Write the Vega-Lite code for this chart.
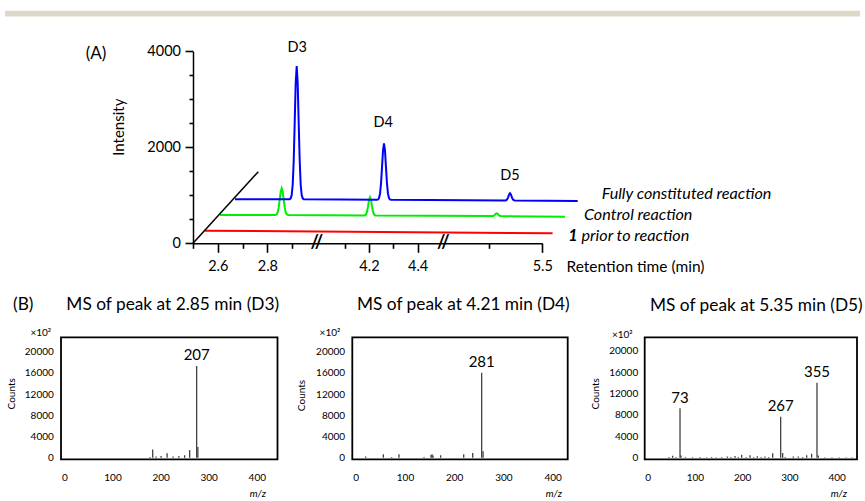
{
  "$schema": "https://vega.github.io/schema/vega-lite/v6.json",
  "width": 865,
  "height": 501,
  "autosize": {"type": "none"},
  "padding": 0,
  "background": "white",
  "config": {
    "view": {"stroke": null},
    "font": "Lato",
    "text": {"font": "Lato", "color": "#000"},
    "axis": {"labelFont": "Lato", "titleFont": "Lato", "labelColor": "#000", "titleColor": "#000", "titleFontWeight": "normal", "labelFlush": false, "labelOverlap": false, "grid": false, "zindex": 2}
  },
  "datasets": {
    "header": [{"band": "header rule"}],
    "traces": [
      {"series": "prior", "t": 2.548, "v": 262}, {"series": "prior", "t": 5.539, "v": 208},
      {"series": "control", "t": 2.609, "v": 590},
      {"series": "control", "t": 2.8297, "v": 589}, {"series": "control", "t": 2.8338, "v": 592}, {"series": "control", "t": 2.8378, "v": 606}, {"series": "control", "t": 2.8419, "v": 649}, {"series": "control", "t": 2.8459, "v": 748}, {"series": "control", "t": 2.8499, "v": 909}, {"series": "control", "t": 2.854, "v": 1074}, {"series": "control", "t": 2.858, "v": 1146}, {"series": "control", "t": 2.862, "v": 1074}, {"series": "control", "t": 2.8661, "v": 909}, {"series": "control", "t": 2.8701, "v": 748}, {"series": "control", "t": 2.8741, "v": 649}, {"series": "control", "t": 2.8782, "v": 606}, {"series": "control", "t": 2.8822, "v": 592}, {"series": "control", "t": 2.8863, "v": 589},
      {"series": "control", "t": 4.1796, "v": 581}, {"series": "control", "t": 4.1837, "v": 585}, {"series": "control", "t": 4.1878, "v": 604}, {"series": "control", "t": 4.1919, "v": 660}, {"series": "control", "t": 4.196, "v": 769}, {"series": "control", "t": 4.2001, "v": 898}, {"series": "control", "t": 4.2042, "v": 958}, {"series": "control", "t": 4.2083, "v": 898}, {"series": "control", "t": 4.2124, "v": 769}, {"series": "control", "t": 4.2165, "v": 660}, {"series": "control", "t": 4.2206, "v": 604}, {"series": "control", "t": 4.2247, "v": 585}, {"series": "control", "t": 4.2288, "v": 581},
      {"series": "control", "t": 5.3121, "v": 567}, {"series": "control", "t": 5.3159, "v": 573}, {"series": "control", "t": 5.3197, "v": 590}, {"series": "control", "t": 5.3235, "v": 613}, {"series": "control", "t": 5.3273, "v": 625}, {"series": "control", "t": 5.3311, "v": 613}, {"series": "control", "t": 5.3349, "v": 590}, {"series": "control", "t": 5.3387, "v": 573}, {"series": "control", "t": 5.3425, "v": 567},
      {"series": "control", "t": 5.586, "v": 554},
      {"series": "full", "t": 2.6695, "v": 917},
      {"series": "full", "t": 2.8903, "v": 920}, {"series": "full", "t": 2.8943, "v": 936}, {"series": "full", "t": 2.8983, "v": 1004}, {"series": "full", "t": 2.9023, "v": 1220}, {"series": "full", "t": 2.9064, "v": 1715}, {"series": "full", "t": 2.9104, "v": 2513}, {"series": "full", "t": 2.9144, "v": 3335}, {"series": "full", "t": 2.9185, "v": 3694}, {"series": "full", "t": 2.9225, "v": 3335}, {"series": "full", "t": 2.9265, "v": 2513}, {"series": "full", "t": 2.9306, "v": 1715}, {"series": "full", "t": 2.9346, "v": 1220}, {"series": "full", "t": 2.9386, "v": 1004}, {"series": "full", "t": 2.9427, "v": 936}, {"series": "full", "t": 2.9467, "v": 920},
      {"series": "full", "t": 4.2329, "v": 906}, {"series": "full", "t": 4.2371, "v": 913}, {"series": "full", "t": 4.2412, "v": 942}, {"series": "full", "t": 4.2453, "v": 1033}, {"series": "full", "t": 4.2494, "v": 1244}, {"series": "full", "t": 4.2535, "v": 1582}, {"series": "full", "t": 4.2576, "v": 1931}, {"series": "full", "t": 4.2617, "v": 2083}, {"series": "full", "t": 4.2658, "v": 1931}, {"series": "full", "t": 4.2699, "v": 1582}, {"series": "full", "t": 4.274, "v": 1244}, {"series": "full", "t": 4.2781, "v": 1033}, {"series": "full", "t": 4.2822, "v": 942}, {"series": "full", "t": 4.2863, "v": 913}, {"series": "full", "t": 4.2905, "v": 906},
      {"series": "full", "t": 5.3588, "v": 891}, {"series": "full", "t": 5.3625, "v": 894}, {"series": "full", "t": 5.3663, "v": 911}, {"series": "full", "t": 5.3701, "v": 952}, {"series": "full", "t": 5.3739, "v": 1012}, {"series": "full", "t": 5.3777, "v": 1042}, {"series": "full", "t": 5.3815, "v": 1012}, {"series": "full", "t": 5.3853, "v": 952}, {"series": "full", "t": 5.3891, "v": 911}, {"series": "full", "t": 5.3929, "v": 894}, {"series": "full", "t": 5.3966, "v": 891},
      {"series": "full", "t": 5.634, "v": 881}
    ],
    "depthAxis": [{"t": 2.5, "v": 0}, {"t": 2.7635, "v": 1492}],
    "annotA": [
      {"role": "peak", "label": "D3", "t": 2.9209, "v": 4062},
      {"role": "peak", "label": "D4", "t": 4.2588, "v": 2500},
      {"role": "peak", "label": "D5", "t": 5.3777, "v": 1402},
      {"role": "series", "label": "Fully constituted reaction", "t": 5.725, "v": 1027},
      {"role": "series", "label": "Control reaction", "t": 5.658, "v": 590},
      {"role": "series", "label": "prior to reaction", "t": 5.6485, "v": 152},
      {"role": "compound", "label": "1", "t": 5.5985, "v": 152},
      {"role": "panel", "label": "(A)", "t": 2.1086, "v": 3944},
      {"role": "break", "label": "//", "t": 3.0, "v": 0},
      {"role": "break", "label": "//", "t": 5.125, "v": 0}
    ],
    "panels": [{"panel": "B1"}, {"panel": "B2"}, {"panel": "B3"}],
    "spectra": [
      {"panel": "B1", "mz": 178, "counts": 150}, {"panel": "B1", "mz": 183.6, "counts": 1550}, {"panel": "B1", "mz": 190.5, "counts": 250}, {"panel": "B1", "mz": 201, "counts": 300}, {"panel": "B1", "mz": 213.5, "counts": 850}, {"panel": "B1", "mz": 226, "counts": 250}, {"panel": "B1", "mz": 238, "counts": 300}, {"panel": "B1", "mz": 250, "counts": 450}, {"panel": "B1", "mz": 260.5, "counts": 1450}, {"panel": "B1", "mz": 275, "counts": 17290}, {"panel": "B1", "mz": 277.5, "counts": 2000},
      {"panel": "B2", "mz": 20.2, "counts": 250}, {"panel": "B2", "mz": 56, "counts": 640}, {"panel": "B2", "mz": 73, "counts": 120}, {"panel": "B2", "mz": 87.8, "counts": 640}, {"panel": "B2", "mz": 138.6, "counts": 120}, {"panel": "B2", "mz": 152.8, "counts": 500}, {"panel": "B2", "mz": 154.9, "counts": 650}, {"panel": "B2", "mz": 157, "counts": 400}, {"panel": "B2", "mz": 172.5, "counts": 450}, {"panel": "B2", "mz": 219.3, "counts": 640}, {"panel": "B2", "mz": 237.6, "counts": 900}, {"panel": "B2", "mz": 255.8, "counts": 16030}, {"panel": "B2", "mz": 258.6, "counts": 1200},
      {"panel": "B3", "mz": 45, "counts": 150}, {"panel": "B3", "mz": 52.9, "counts": 380}, {"panel": "B3", "mz": 60, "counts": 150}, {"panel": "B3", "mz": 68.4, "counts": 9230}, {"panel": "B3", "mz": 70.5, "counts": 400}, {"panel": "B3", "mz": 80, "counts": 120}, {"panel": "B3", "mz": 95, "counts": 100}, {"panel": "B3", "mz": 110.7, "counts": 150}, {"panel": "B3", "mz": 125, "counts": 100}, {"panel": "B3", "mz": 135.4, "counts": 150}, {"panel": "B3", "mz": 145, "counts": 100}, {"panel": "B3", "mz": 156.6, "counts": 150}, {"panel": "B3", "mz": 168.5, "counts": 200}, {"panel": "B3", "mz": 176, "counts": 120}, {"panel": "B3", "mz": 184.8, "counts": 300}, {"panel": "B3", "mz": 192, "counts": 150}, {"panel": "B3", "mz": 199, "counts": 560}, {"panel": "B3", "mz": 208, "counts": 150}, {"panel": "B3", "mz": 216.5, "counts": 450}, {"panel": "B3", "mz": 224, "counts": 120}, {"panel": "B3", "mz": 232, "counts": 250}, {"panel": "B3", "mz": 240, "counts": 120}, {"panel": "B3", "mz": 248, "counts": 200}, {"panel": "B3", "mz": 256, "counts": 150}, {"panel": "B3", "mz": 264.5, "counts": 820}, {"panel": "B3", "mz": 281.5, "counts": 7660}, {"panel": "B3", "mz": 285.7, "counts": 900}, {"panel": "B3", "mz": 291, "counts": 150}, {"panel": "B3", "mz": 308, "counts": 200}, {"panel": "B3", "mz": 318.7, "counts": 200}, {"panel": "B3", "mz": 328, "counts": 150}, {"panel": "B3", "mz": 336.5, "counts": 450}, {"panel": "B3", "mz": 347, "counts": 750}, {"panel": "B3", "mz": 358.3, "counts": 14015}, {"panel": "B3", "mz": 361, "counts": 400}, {"panel": "B3", "mz": 375, "counts": 100}, {"panel": "B3", "mz": 390, "counts": 100}, {"panel": "B3", "mz": 405, "counts": 100}, {"panel": "B3", "mz": 420, "counts": 100}, {"panel": "B3", "mz": 432, "counts": 100}
    ],
    "annotB": [
      {"panel": "B1", "role": "peak", "label": "207", "mz": 275, "counts": 17290},
      {"panel": "B2", "role": "peak", "label": "281", "mz": 255.8, "counts": 16030},
      {"panel": "B3", "role": "peak", "label": "73", "mz": 68.4, "counts": 9230},
      {"panel": "B3", "role": "peak", "label": "267", "mz": 281.5, "counts": 7660},
      {"panel": "B3", "role": "peak", "label": "355", "mz": 358.3, "counts": 14015},
      {"panel": "B1", "role": "title", "label": "MS of peak at 2.85 min (D3)", "mz": 225.2, "counts": 28790},
      {"panel": "B1", "role": "title", "label": "(B)", "mz": -85.4, "counts": 28790},
      {"panel": "B2", "role": "title", "label": "MS of peak at 4.21 min (D4)", "mz": 218.5, "counts": 28790},
      {"panel": "B3", "role": "title", "label": "MS of peak at 5.35 min (D5)", "mz": 229.9, "counts": 28349},
      {"panel": "B1", "role": "unit", "label": "×10²", "mz": -49, "counts": 23454},
      {"panel": "B2", "role": "unit", "label": "×10²", "mz": -52.3, "counts": 23454},
      {"panel": "B3", "role": "unit", "label": "×10²", "mz": -53.8, "counts": 22930}
    ]
  },
  "layer": [
    {
      "data": {"name": "header"},
      "mark": {"type": "rect", "color": "#ddd8c8"},
      "encoding": {
        "x": {"datum": 0, "type": "quantitative", "scale": {"domain": [0, 1], "range": [5, 860], "nice": false, "zero": false}, "axis": null},
        "x2": {"datum": 1},
        "y": {"datum": 0, "type": "quantitative", "scale": {"domain": [0, 1], "range": [16.5, 10.8], "nice": false, "zero": false}, "axis": null},
        "y2": {"datum": 1}
      }
    },
    {
      "data": {"name": "traces"},
      "mark": {"type": "line", "strokeWidth": 2},
      "encoding": {
        "x": {"field": "t", "type": "quantitative", "scale": {"type": "linear", "domain": [2.5, 3.0, 4.0, 4.5, 5.125, 5.5], "range": [193, 316.9, 320.3, 442, 443.3, 542.3], "nice": false, "zero": false},
          "axis": {"orient": "bottom", "offset": -257.7, "values": [2.6, 2.8, 4.2, 4.4, 5.5], "format": ".1f",
            "ticks": true, "tickSize": 9, "tickColor": "#000", "tickWidth": 1.6, "tickOpacity": 1, "domainColor": "#000", "domainWidth": 1.5,
            "labelFontSize": 14.5, "labelPadding": 7,
            "title": "Retention time (min)", "titleFontSize": 15.5, "titleX": 566, "titleY": 23, "titleAlign": "left", "titleBaseline": "middle", "titleAngle": 0}},
        "y": {"field": "v", "type": "quantitative", "scale": {"domain": [0, 4000], "range": [243.3, 51.3], "nice": false, "zero": false},
          "axis": {"orient": "left", "offset": -193, "values": [0, 2000, 4000], "format": "d",
            "ticks": true, "tickSize": 8, "tickColor": "#000", "tickWidth": 1.6, "tickOpacity": 1, "domainColor": "#000", "domainWidth": 1.5,
            "labelFontSize": 14.5, "labelPadding": 4.5,
            "title": "Intensity", "titleFontSize": 15, "titleX": -74.7, "titleY": 126.7, "titleAngle": 270, "titleAlign": "center", "titleBaseline": "middle"}},
        "color": {"field": "series", "type": "nominal", "scale": {"domain": ["full", "control", "prior"], "range": ["#0000ff", "#00ee00", "#ff0000"]}, "legend": null}
      }
    },
    {
      "data": {"name": "depthAxis"},
      "mark": {"type": "line", "color": "#000", "strokeWidth": 1.5},
      "encoding": {
        "x": {"field": "t", "type": "quantitative", "scale": {"type": "linear", "domain": [2.5, 3.0, 4.0, 4.5, 5.125, 5.5], "range": [193, 316.9, 320.3, 442, 443.3, 542.3], "nice": false, "zero": false},
          "axis": {"orient": "bottom", "offset": -257.7, "values": [2.5, 2.7, 2.9, 4.1, 4.3, 5.3], "ticks": true, "tickSize": 5, "tickColor": "#000", "tickWidth": 1.6, "tickOpacity": 1, "domain": false, "labels": false, "title": null}},
        "y": {"field": "v", "type": "quantitative", "scale": {"domain": [0, 4000], "range": [243.3, 51.3], "nice": false, "zero": false},
          "axis": {"orient": "left", "offset": -193, "values": [500, 1000, 1500, 2500, 3000, 3500], "ticks": true, "tickSize": 4, "tickColor": "#000", "tickWidth": 1.6, "tickOpacity": 1, "domain": false, "labels": false, "title": null}}
      }
    },
    {
      "data": {"name": "annotA"},
      "transform": [{"filter": "datum.role === 'peak'"}],
      "mark": {"type": "text", "fontSize": 14.5, "baseline": "middle", "align": "center"},
      "encoding": {
        "x": {"field": "t", "type": "quantitative", "scale": {"type": "linear", "domain": [2.5, 3.0, 4.0, 4.5, 5.125, 5.5], "range": [193, 316.9, 320.3, 442, 443.3, 542.3], "nice": false, "zero": false}, "axis": null},
        "y": {"field": "v", "type": "quantitative", "scale": {"domain": [0, 4000], "range": [243.3, 51.3], "nice": false, "zero": false}, "axis": null},
        "text": {"field": "label"}
      }
    },
    {
      "data": {"name": "annotA"},
      "transform": [{"filter": "datum.role === 'series'"}],
      "mark": {"type": "text", "fontSize": 16.2, "fontStyle": "italic", "baseline": "middle", "align": "left"},
      "encoding": {
        "x": {"field": "t", "type": "quantitative", "scale": {"type": "linear", "domain": [2.5, 3.0, 4.0, 4.5, 5.125, 5.5], "range": [193, 316.9, 320.3, 442, 443.3, 542.3], "nice": false, "zero": false}, "axis": null},
        "y": {"field": "v", "type": "quantitative", "scale": {"domain": [0, 4000], "range": [243.3, 51.3], "nice": false, "zero": false}, "axis": null},
        "text": {"field": "label"}
      }
    },
    {
      "data": {"name": "annotA"},
      "transform": [{"filter": "datum.role === 'compound'"}],
      "mark": {"type": "text", "fontSize": 16.2, "fontStyle": "italic", "fontWeight": "bold", "baseline": "middle", "align": "left"},
      "encoding": {
        "x": {"field": "t", "type": "quantitative", "scale": {"type": "linear", "domain": [2.5, 3.0, 4.0, 4.5, 5.125, 5.5], "range": [193, 316.9, 320.3, 442, 443.3, 542.3], "nice": false, "zero": false}, "axis": null},
        "y": {"field": "v", "type": "quantitative", "scale": {"domain": [0, 4000], "range": [243.3, 51.3], "nice": false, "zero": false}, "axis": null},
        "text": {"field": "label"}
      }
    },
    {
      "data": {"name": "annotA"},
      "transform": [{"filter": "datum.role === 'panel'"}],
      "mark": {"type": "text", "fontSize": 17, "baseline": "middle", "align": "center"},
      "encoding": {
        "x": {"field": "t", "type": "quantitative", "scale": {"type": "linear", "domain": [2.5, 3.0, 4.0, 4.5, 5.125, 5.5], "range": [193, 316.9, 320.3, 442, 443.3, 542.3], "nice": false, "zero": false}, "axis": null},
        "y": {"field": "v", "type": "quantitative", "scale": {"domain": [0, 4000], "range": [243.3, 51.3], "nice": false, "zero": false}, "axis": null},
        "text": {"field": "label"}
      }
    },
    {
      "data": {"name": "annotA"},
      "transform": [{"filter": "datum.role === 'break'"}],
      "mark": {"type": "text", "fontSize": 18, "fontWeight": "bold", "baseline": "middle", "align": "center"},
      "encoding": {
        "x": {"field": "t", "type": "quantitative", "scale": {"type": "linear", "domain": [2.5, 3.0, 4.0, 4.5, 5.125, 5.5], "range": [193, 316.9, 320.3, 442, 443.3, 542.3], "nice": false, "zero": false}, "axis": null},
        "y": {"field": "v", "type": "quantitative", "scale": {"domain": [0, 4000], "range": [243.3, 51.3], "nice": false, "zero": false}, "axis": null},
        "text": {"field": "label"}
      }
    },
    {
      "data": {"name": "panels"},
      "transform": [{"filter": "datum.panel === 'B1'"}],
      "mark": {"type": "rect", "fill": "white", "fillOpacity": 0, "stroke": "#000", "strokeWidth": 1.8},
      "encoding": {
        "x": {"datum": -7, "type": "quantitative", "scale": {"domain": [-7, 443], "range": [61, 277.5], "nice": false, "zero": false},
          "axis": {"orient": "bottom", "offset": -41.7, "values": [0, 100, 200, 300, 400], "format": "d", "ticks": false, "domain": false, "labelFontSize": 10, "labelPadding": 13.5,
            "title": "m/z", "titleFontStyle": "italic", "titleFontSize": 10, "titleX": 257.3, "titleY": 34, "titleAlign": "center", "titleBaseline": "middle"}},
        "x2": {"datum": 443},
        "y": {"datum": -300, "type": "quantitative", "scale": {"domain": [-300, 22700], "range": [459.3, 337.3], "nice": false, "zero": false},
          "axis": {"orient": "left", "offset": -61, "values": [0, 4000, 8000, 12000, 16000, 20000], "format": "d", "ticks": false, "domain": false, "labelFontSize": 10, "labelPadding": 7.7,
            "title": "Counts", "titleFontSize": 10, "titleX": -49.3, "titleY": 393.3, "titleAngle": 270, "titleAlign": "center", "titleBaseline": "middle"}},
        "y2": {"datum": 22700}
      }
    },
    {
      "data": {"name": "spectra"},
      "transform": [{"filter": "datum.panel === 'B1'"}],
      "mark": {"type": "rule", "color": "#333", "strokeWidth": 1.2},
      "encoding": {
        "x": {"field": "mz", "type": "quantitative", "scale": {"domain": [-7, 443], "range": [61, 277.5], "nice": false, "zero": false}, "axis": null},
        "y": {"field": "counts", "type": "quantitative", "scale": {"domain": [-300, 22700], "range": [459.3, 337.3], "nice": false, "zero": false}, "axis": null},
        "y2": {"datum": 0}
      }
    },
    {
      "data": {"name": "annotB"},
      "transform": [{"filter": "datum.panel === 'B1' && datum.role === 'peak'"}],
      "mark": {"type": "text", "fontSize": 15, "baseline": "middle", "align": "center", "dy": -10.5},
      "encoding": {
        "x": {"field": "mz", "type": "quantitative", "scale": {"domain": [-7, 443], "range": [61, 277.5], "nice": false, "zero": false}, "axis": null},
        "y": {"field": "counts", "type": "quantitative", "scale": {"domain": [-300, 22700], "range": [459.3, 337.3], "nice": false, "zero": false}, "axis": null},
        "text": {"field": "label"}
      }
    },
    {
      "data": {"name": "annotB"},
      "transform": [{"filter": "datum.panel === 'B1' && datum.role === 'title'"}],
      "mark": {"type": "text", "fontSize": 17.3, "baseline": "middle", "align": "center"},
      "encoding": {
        "x": {"field": "mz", "type": "quantitative", "scale": {"domain": [-7, 443], "range": [61, 277.5], "nice": false, "zero": false}, "axis": null},
        "y": {"field": "counts", "type": "quantitative", "scale": {"domain": [-300, 22700], "range": [459.3, 337.3], "nice": false, "zero": false}, "axis": null},
        "text": {"field": "label"}
      }
    },
    {
      "data": {"name": "annotB"},
      "transform": [{"filter": "datum.panel === 'B1' && datum.role === 'unit'"}],
      "mark": {"type": "text", "fontSize": 10, "baseline": "middle", "align": "center"},
      "encoding": {
        "x": {"field": "mz", "type": "quantitative", "scale": {"domain": [-7, 443], "range": [61, 277.5], "nice": false, "zero": false}, "axis": null},
        "y": {"field": "counts", "type": "quantitative", "scale": {"domain": [-300, 22700], "range": [459.3, 337.3], "nice": false, "zero": false}, "axis": null},
        "text": {"field": "label"}
      }
    },
    {
      "data": {"name": "panels"},
      "transform": [{"filter": "datum.panel === 'B2'"}],
      "mark": {"type": "rect", "fill": "white", "fillOpacity": 0, "stroke": "#000", "strokeWidth": 1.8},
      "encoding": {
        "x": {"datum": -7, "type": "quantitative", "scale": {"domain": [-7, 430.5], "range": [352.3, 567.7], "nice": false, "zero": false},
          "axis": {"orient": "bottom", "offset": -41.7, "values": [0, 100, 200, 300, 400], "format": "d", "ticks": false, "domain": false, "labelFontSize": 10, "labelPadding": 13.5,
            "title": "m/z", "titleFontStyle": "italic", "titleFontSize": 10, "titleX": 553.3, "titleY": 34, "titleAlign": "center", "titleBaseline": "middle"}},
        "x2": {"datum": 430.5},
        "y": {"datum": -300, "type": "quantitative", "scale": {"domain": [-300, 22700], "range": [459.3, 337.3], "nice": false, "zero": false},
          "axis": {"orient": "left", "offset": -352.3, "values": [0, 4000, 8000, 12000, 16000, 20000], "format": "d", "ticks": false, "domain": false, "labelFontSize": 10, "labelPadding": 7.7,
            "title": "Counts", "titleFontSize": 10, "titleX": -50.6, "titleY": 395, "titleAngle": 270, "titleAlign": "center", "titleBaseline": "middle"}},
        "y2": {"datum": 22700}
      }
    },
    {
      "data": {"name": "spectra"},
      "transform": [{"filter": "datum.panel === 'B2'"}],
      "mark": {"type": "rule", "color": "#333", "strokeWidth": 1.2},
      "encoding": {
        "x": {"field": "mz", "type": "quantitative", "scale": {"domain": [-7, 430.5], "range": [352.3, 567.7], "nice": false, "zero": false}, "axis": null},
        "y": {"field": "counts", "type": "quantitative", "scale": {"domain": [-300, 22700], "range": [459.3, 337.3], "nice": false, "zero": false}, "axis": null},
        "y2": {"datum": 0}
      }
    },
    {
      "data": {"name": "annotB"},
      "transform": [{"filter": "datum.panel === 'B2' && datum.role === 'peak'"}],
      "mark": {"type": "text", "fontSize": 15, "baseline": "middle", "align": "center", "dy": -10.5},
      "encoding": {
        "x": {"field": "mz", "type": "quantitative", "scale": {"domain": [-7, 430.5], "range": [352.3, 567.7], "nice": false, "zero": false}, "axis": null},
        "y": {"field": "counts", "type": "quantitative", "scale": {"domain": [-300, 22700], "range": [459.3, 337.3], "nice": false, "zero": false}, "axis": null},
        "text": {"field": "label"}
      }
    },
    {
      "data": {"name": "annotB"},
      "transform": [{"filter": "datum.panel === 'B2' && datum.role === 'title'"}],
      "mark": {"type": "text", "fontSize": 17.3, "baseline": "middle", "align": "center"},
      "encoding": {
        "x": {"field": "mz", "type": "quantitative", "scale": {"domain": [-7, 430.5], "range": [352.3, 567.7], "nice": false, "zero": false}, "axis": null},
        "y": {"field": "counts", "type": "quantitative", "scale": {"domain": [-300, 22700], "range": [459.3, 337.3], "nice": false, "zero": false}, "axis": null},
        "text": {"field": "label"}
      }
    },
    {
      "data": {"name": "annotB"},
      "transform": [{"filter": "datum.panel === 'B2' && datum.role === 'unit'"}],
      "mark": {"type": "text", "fontSize": 10, "baseline": "middle", "align": "center"},
      "encoding": {
        "x": {"field": "mz", "type": "quantitative", "scale": {"domain": [-7, 430.5], "range": [352.3, 567.7], "nice": false, "zero": false}, "axis": null},
        "y": {"field": "counts", "type": "quantitative", "scale": {"domain": [-300, 22700], "range": [459.3, 337.3], "nice": false, "zero": false}, "axis": null},
        "text": {"field": "label"}
      }
    },
    {
      "data": {"name": "panels"},
      "transform": [{"filter": "datum.panel === 'B3'"}],
      "mark": {"type": "rect", "fill": "white", "fillOpacity": 0, "stroke": "#000", "strokeWidth": 1.8},
      "encoding": {
        "x": {"datum": -6.35, "type": "quantitative", "scale": {"domain": [-6.35, 443], "range": [644.7, 857], "nice": false, "zero": false},
          "axis": {"orient": "bottom", "offset": -41.7, "values": [0, 100, 200, 300, 400], "format": "d", "ticks": false, "domain": false, "labelFontSize": 10, "labelPadding": 13.5,
            "title": "m/z", "titleFontStyle": "italic", "titleFontSize": 10, "titleX": 838.3, "titleY": 34, "titleAlign": "center", "titleBaseline": "middle"}},
        "x2": {"datum": 443},
        "y": {"datum": -300, "type": "quantitative", "scale": {"domain": [-300, 22500], "range": [459.3, 337.3], "nice": false, "zero": false},
          "axis": {"orient": "left", "offset": -644.7, "values": [0, 4000, 8000, 12000, 16000, 20000], "format": "d", "ticks": false, "domain": false, "labelFontSize": 10, "labelPadding": 7,
            "title": "Counts", "titleFontSize": 10, "titleX": -49.7, "titleY": 393.3, "titleAngle": 270, "titleAlign": "center", "titleBaseline": "middle"}},
        "y2": {"datum": 22500}
      }
    },
    {
      "data": {"name": "spectra"},
      "transform": [{"filter": "datum.panel === 'B3'"}],
      "mark": {"type": "rule", "color": "#333", "strokeWidth": 1.2},
      "encoding": {
        "x": {"field": "mz", "type": "quantitative", "scale": {"domain": [-6.35, 443], "range": [644.7, 857], "nice": false, "zero": false}, "axis": null},
        "y": {"field": "counts", "type": "quantitative", "scale": {"domain": [-300, 22500], "range": [459.3, 337.3], "nice": false, "zero": false}, "axis": null},
        "y2": {"datum": 0}
      }
    },
    {
      "data": {"name": "annotB"},
      "transform": [{"filter": "datum.panel === 'B3' && datum.role === 'peak'"}],
      "mark": {"type": "text", "fontSize": 15, "baseline": "middle", "align": "center", "dy": -10.5},
      "encoding": {
        "x": {"field": "mz", "type": "quantitative", "scale": {"domain": [-6.35, 443], "range": [644.7, 857], "nice": false, "zero": false}, "axis": null},
        "y": {"field": "counts", "type": "quantitative", "scale": {"domain": [-300, 22500], "range": [459.3, 337.3], "nice": false, "zero": false}, "axis": null},
        "text": {"field": "label"}
      }
    },
    {
      "data": {"name": "annotB"},
      "transform": [{"filter": "datum.panel === 'B3' && datum.role === 'title'"}],
      "mark": {"type": "text", "fontSize": 17.3, "baseline": "middle", "align": "center"},
      "encoding": {
        "x": {"field": "mz", "type": "quantitative", "scale": {"domain": [-6.35, 443], "range": [644.7, 857], "nice": false, "zero": false}, "axis": null},
        "y": {"field": "counts", "type": "quantitative", "scale": {"domain": [-300, 22500], "range": [459.3, 337.3], "nice": false, "zero": false}, "axis": null},
        "text": {"field": "label"}
      }
    },
    {
      "data": {"name": "annotB"},
      "transform": [{"filter": "datum.panel === 'B3' && datum.role === 'unit'"}],
      "mark": {"type": "text", "fontSize": 10, "baseline": "middle", "align": "center"},
      "encoding": {
        "x": {"field": "mz", "type": "quantitative", "scale": {"domain": [-6.35, 443], "range": [644.7, 857], "nice": false, "zero": false}, "axis": null},
        "y": {"field": "counts", "type": "quantitative", "scale": {"domain": [-300, 22500], "range": [459.3, 337.3], "nice": false, "zero": false}, "axis": null},
        "text": {"field": "label"}
      }
    }
  ],
  "resolve": {"scale": {"x": "independent", "y": "independent"}, "axis": {"x": "independent", "y": "independent"}}
}
